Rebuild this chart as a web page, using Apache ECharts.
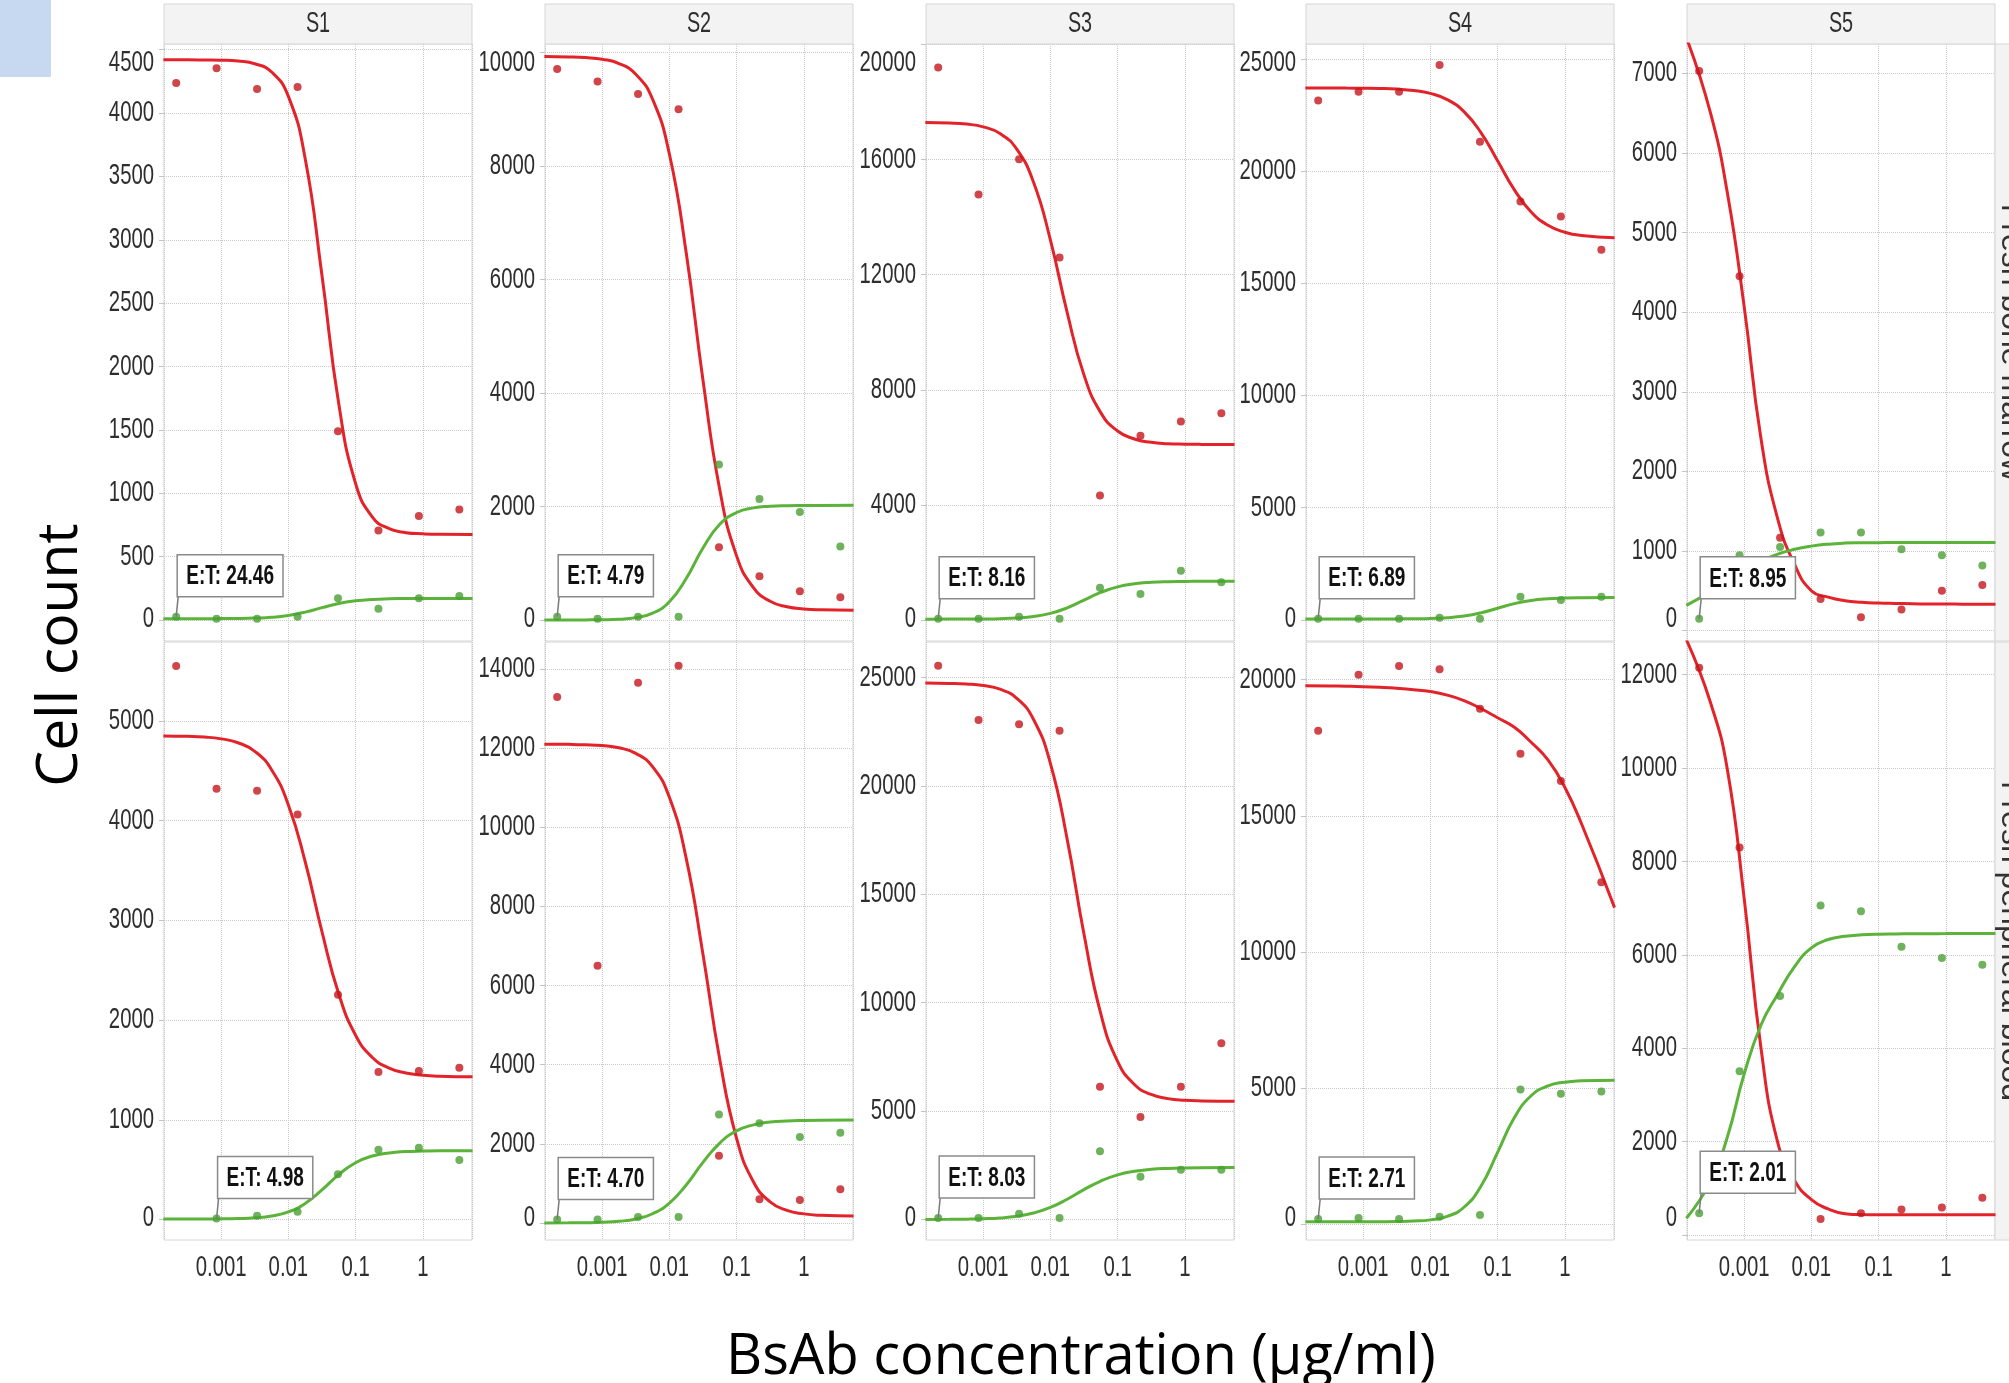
<!DOCTYPE html>
<html>
<head>
<meta charset="utf-8">
<title>Cell count vs BsAb concentration</title>
<script src="https://cdn.jsdelivr.net/npm/echarts@6/dist/echarts.min.js"></script>
<style>
html, body { margin: 0; padding: 0; background: #fff; }
#chart { width: 2009px; height: 1383px; }
</style>
</head>
<body>
<div id="chart"></div>
<script>
// BsAb concentration (µg/ml), 4-fold dilution series
const conc = [0.000214, 0.000854, 0.00342, 0.0137, 0.0547, 0.219, 0.875, 3.5]
const curveX = [0.000138, 0.000316, 0.000562, 0.001, 0.00178, 0.00316, 0.00562, 0.01, 0.0178,
	0.0316, 0.0562, 0.1, 0.178, 0.316, 0.562, 1, 1.78, 5.5]
const xTicks = [0.001, 0.01, 0.1, 1]

const samples = ['S1', 'S2', 'S3', 'S4', 'S5']
const tissues = ['Fresh bone marrow', 'Fresh peripheral blood']

// Fresh bone marrow (top row)
const bmET = ['24.46', '4.79', '8.16', '6.89', '8.95']
const bmRedDots = [
	[4238, 4354, 4189, 4205, 1490, 705, 821, 871],
	[9710, 9490, 9270, 9000, 1280, 770, 505, 400],
	[19200, 14790, 16010, 12600, 4330, 6400, 6900, 7190],
	[23140, 23530, 23530, 24720, 21300, 18640, 17970, 16490],
	[7030, 4450, 1165, 395, 167, 265, 500, 572],
]
const bmGreenDots = [
	[26, 10, 10, 26, 172, 89, 172, 189],
	[59, 22, 59, 59, 2741, 2133, 1904, 1296],
	[44, 44, 117, 44, 1124, 905, 1708, 1314],
	[56, 56, 56, 94, 56, 1034, 884, 1034],
	[147, 947, 1050, 1232, 1232, 1021, 947, 816],
]
const bmRedFit = [
	[4420, 4420, 4419, 4417, 4410, 4389, 4324, 4132, 3640, 2720, 1706, 1077, 812, 720, 689, 680, 676, 675],
	[9928, 9922, 9910, 9881, 9806, 9618, 9178, 8212, 6470, 4230, 2298, 1130, 570, 330, 233, 195, 180, 172],
	[17293, 17274, 17236, 17140, 16908, 16364, 15213, 13212, 10681, 8519, 7207, 6568, 6292, 6177, 6130, 6112, 6104, 6100],
	[23700, 23698, 23695, 23690, 23678, 23650, 23591, 23460, 23184, 22645, 21723, 20457, 19162, 18175, 17582, 17273, 17125, 17026],
	[7450, 6500, 5500, 4070, 2410, 1400, 830, 500, 420, 375, 355, 345, 340, 336, 333, 332, 331, 330],
]
const bmGreenFit = [
	[10, 10, 10, 11, 12, 15, 21, 36, 62, 97, 130, 151, 162, 167, 169, 170, 170, 170],
	[0, 1, 2, 5, 14, 42, 120, 323, 730, 1269, 1686, 1894, 1976, 2005, 2015, 2018, 2019, 2020],
	[30, 31, 33, 37, 47, 71, 122, 229, 422, 690, 958, 1151, 1258, 1309, 1333, 1342, 1347, 1350],
	[40, 40, 40, 41, 42, 44, 50, 64, 97, 172, 314, 520, 726, 868, 943, 976, 990, 998],
	[315, 490, 640, 770, 870, 960, 1020, 1060, 1085, 1098, 1102, 1104, 1105, 1105, 1105, 1105, 1105, 1105],
]
const bmTicks = [
	[0, 500, 1000, 1500, 2000, 2500, 3000, 3500, 4000, 4500],
	[0, 2000, 4000, 6000, 8000, 10000],
	[0, 4000, 8000, 12000, 16000, 20000],
	[0, 5000, 10000, 15000, 20000, 25000],
	[0, 1000, 2000, 3000, 4000, 5000, 6000, 7000],
]
const bmRange = [[-166, 4545], [-370, 10150], [-730, 20020], [-940, 25660], [-132, 7370]]

// Fresh peripheral blood (bottom row)
const pbET = ['4.98', '4.70', '8.03', '2.71', '2.01']
const pbRedDots = [
	[5550, 4320, 4300, 4060, 2253, 1480, 1490, 1523],
	[13290, 6500, 13650, 14080, 1700, 600, 580, 850],
	[25550, 23040, 22850, 22550, 6120, 4730, 6120, 8130],
	[18120, 20180, 20500, 20380, 18930, 17280, 16280, 12560],
	[12150, 8300, 1700, 345, 470, 550, 590, 800],
]
const pbGreenDots = [
	[null, 10, 39, 78, 455, 699, 719, 596],
	[90, 90, 150, 150, 2740, 2520, 2170, 2280],
	[67, 67, 270, 67, 3147, 1978, 2293, 2293],
	[200, 240, 200, 280, 350, 4950, 4800, 4880],
	[470, 3510, 5120, 7060, 6935, 6175, 5935, 5790],
]
const pbRedFit = [
	[4848, 4844, 4837, 4819, 4780, 4694, 4510, 4157, 3587, 2886, 2262, 1848, 1625, 1518, 1469, 1447, 1437, 1431],
	[12099, 12094, 12084, 12062, 12006, 11867, 11531, 10755, 9213, 6792, 4130, 2139, 1041, 533, 317, 230, 194, 174],
	[24744, 24731, 24704, 24634, 24462, 24044, 23067, 21044, 17536, 13170, 9497, 7295, 6230, 5768, 5577, 5500, 5471, 5454],
	[19770, 19765, 19755, 19740, 19715, 19680, 19630, 19560, 19430, 19230, 18940, 18600, 18250, 17700, 17050, 16050, 14700, 11630],
	[12750, 11400, 9970, 7210, 4000, 1980, 1170, 760, 560, 460, 440, 438, 437, 436, 436, 435, 435, 435],
]
const pbGreenFit = [
	[5, 5, 6, 7, 10, 18, 36, 77, 162, 297, 451, 570, 637, 668, 681, 686, 689, 690],
	[1, 3, 7, 17, 42, 101, 233, 503, 960, 1530, 2020, 2327, 2480, 2550, 2579, 2591, 2597, 2600],
	[3, 8, 17, 36, 74, 152, 300, 557, 935, 1378, 1777, 2058, 2225, 2314, 2358, 2380, 2391, 2398],
	[100, 100, 101, 101, 103, 108, 124, 169, 297, 632, 1392, 2645, 3925, 4726, 5087, 5224, 5273, 5297],
	[360, 1150, 2100, 3450, 4500, 5160, 5750, 6150, 6330, 6400, 6430, 6445, 6450, 6452, 6455, 6456, 6458, 6460],
]
const pbTicks = [
	[0, 1000, 2000, 3000, 4000, 5000],
	[0, 2000, 4000, 6000, 8000, 10000, 12000, 14000],
	[0, 5000, 10000, 15000, 20000, 25000],
	[0, 5000, 10000, 15000, 20000],
	[0, 2000, 4000, 6000, 8000, 10000, 12000],
]
const pbRange = [[-205, 5790], [-430, 14680], [-944, 26640], [-570, 21380], [-104, 12700]]

const rowsData = [
	{ et: bmET, redDots: bmRedDots, greenDots: bmGreenDots, redFit: bmRedFit, greenFit: bmGreenFit, ticks: bmTicks, range: bmRange },
	{ et: pbET, redDots: pbRedDots, greenDots: pbGreenDots, redFit: pbRedFit, greenFit: pbGreenFit, ticks: pbTicks, range: pbRange },
]

// 布局
const colLeft = [164, 545, 926, 1306, 1687]
const plotW = 308
const rowBox = [{ top: 44, h: 597 }, { top: 642, h: 598 }]
const X_MIN = 0.000141
const X_MAX = 5.4

const SANS = "'Liberation Sans', Arial, sans-serif"
// the source uses a tall, condensed face: normal face squeezed horizontally
const TICK_FONT = '29px ' + SANS
const SQUEEZE = 0.7
const TICK_COLOR = '#2e2e2e'
const RED_LINE = '#e2232a'
const RED_DOT = '#c3161d'
const GREEN_LINE = '#5bb33a'
const GREEN_DOT = '#4a9f35'
const GRID_LINE = { color: '#c9c9c9', type: 'dotted', width: 1 }

const chart = echarts.init(document.getElementById('chart'))

const grid = []
const xAxis = []
const yAxis = []
const series = []

rowsData.forEach((rd, r) => {
	samples.forEach((s, c) => {
		const gi = r * 5 + c
		const [lo, hi] = rd.range[c]
		const ticks = rd.ticks[c]

		grid.push({
			left: colLeft[c], top: rowBox[r].top, width: plotW, height: rowBox[r].h,
			show: true, borderColor: '#d6d6d6', borderWidth: 1, backgroundColor: '#fff',
			containLabel: false, outerBoundsMode: 'none',
		})

		xAxis.push({
			type: 'log', logBase: 10, gridIndex: gi, min: X_MIN, max: X_MAX,
			axisLine: { show: false }, axisTick: { show: false }, axisLabel: { show: false },
			splitLine: { show: true, lineStyle: GRID_LINE },
		})

		yAxis.push({
			type: 'value', gridIndex: gi, min: lo, max: hi,
			axisLine: { show: false },
			axisTick: { show: true, length: 5, lineStyle: { color: '#c4c4c4' }, customValues: ticks },
			axisLabel: { show: false, customValues: ticks },
			splitLine: { show: true, lineStyle: GRID_LINE },
		})

		const fit = (vals) => curveX.map((x, i) => [x, vals[i]])
		const dots = (vals) => conc.map((x, i) => [x, vals[i]]).filter((p) => p[1] != null)

		series.push({
			type: 'line', xAxisIndex: gi, yAxisIndex: gi, data: fit(rd.redFit[c]),
			smooth: 0.5, symbol: 'none', silent: true, z: 2,
			lineStyle: { color: RED_LINE, width: 3 },
		})
		series.push({
			type: 'line', xAxisIndex: gi, yAxisIndex: gi, data: fit(rd.greenFit[c]),
			smooth: 0.5, symbol: 'none', silent: true, z: 3,
			lineStyle: { color: GREEN_LINE, width: 3 },
		})
		series.push({
			type: 'scatter', xAxisIndex: gi, yAxisIndex: gi, data: dots(rd.redDots[c]),
			symbolSize: 8, itemStyle: { color: RED_DOT }, z: 4, silent: true,
		})
		series.push({
			type: 'scatter', xAxisIndex: gi, yAxisIndex: gi, data: dots(rd.greenDots[c]),
			symbolSize: 8, itemStyle: { color: GREEN_DOT }, z: 5, silent: true,
		})
	})
})

chart.setOption({
	animation: false,
	backgroundColor: '#fff',
	grid, xAxis, yAxis, series,
})

// 装饰: tick labels, strips, titles, E:T boxes
const graphic = []
const txtStyle = (text, font, fill, align) => ({
	text, font, fill, align, verticalAlign: 'middle', textAlign: align, textVerticalAlign: 'middle',
})

graphic.push({ type: 'rect', shape: { x: 0, y: 0, width: 51, height: 77 }, style: { fill: '#c6d9f0' }, silent: true })

// tick labels (squeezed text, pushed inside the plot near the edges)
rowsData.forEach((rd, r) => {
	const top = rowBox[r].top
	const bottom = top + rowBox[r].h
	samples.forEach((s, c) => {
		const gi = r * 5 + c
		rd.ticks[c].forEach((v) => {
			let py = chart.convertToPixel({ yAxisIndex: gi }, v)
			if (py - top < 19) py = top + 19
			if (bottom - py < 22) py = bottom - 22
			graphic.push({
				type: 'text', x: colLeft[c] - 10, y: py, scaleX: SQUEEZE, silent: true,
				style: txtStyle(String(v), TICK_FONT, TICK_COLOR, 'right'),
			})
		})
		if (r === 1) {
			xTicks.forEach((v) => {
				const px = chart.convertToPixel({ xAxisIndex: gi }, v)
				graphic.push({
					type: 'text', x: px, y: bottom + 28, scaleX: SQUEEZE, silent: true,
					style: txtStyle(String(v), TICK_FONT, TICK_COLOR, 'center'),
				})
			})
		}
	})
})

samples.forEach((s, c) => {
	graphic.push({
		type: 'rect', shape: { x: colLeft[c], y: 4, width: plotW, height: 40 },
		style: { fill: '#f3f3f3', stroke: '#d6d6d6', lineWidth: 1 }, silent: true,
	})
	graphic.push({
		type: 'text', x: colLeft[c] + plotW / 2, y: 24, scaleX: 0.66, silent: true,
		style: txtStyle(s, '30px ' + SANS, '#2e2e2e', 'center'),
	})
})

tissues.forEach((t, r) => {
	graphic.push({
		type: 'rect', shape: { x: 1995, y: rowBox[r].top, width: 40, height: rowBox[r].h },
		style: { fill: '#f3f3f3', stroke: '#d6d6d6', lineWidth: 1 }, silent: true,
	})
	graphic.push({
		type: 'text', x: 2011, y: rowBox[r].top + rowBox[r].h / 2, rotation: -Math.PI / 2, silent: true,
		style: txtStyle(t, '32px ' + SANS, '#333', 'center'),
	})
})

graphic.push({
	type: 'text', x: 61, y: 655, rotation: Math.PI / 2, silent: true,
	style: txtStyle('Cell count', "57px 'Open Sans', sans-serif", '#000', 'center'),
})
graphic.push({
	type: 'text', x: 1081, y: 1358, silent: true,
	style: txtStyle('BsAb concentration (µg/ml)', "56px 'Open Sans', sans-serif", '#000', 'center'),
})

const ET_FONT = 'bold 28px ' + SANS
const ET_SCALE = 0.68
const measure = document.createElement('canvas').getContext('2d')
measure.font = ET_FONT

rowsData.forEach((rd, r) => {
	samples.forEach((s, c) => {
		const gi = r * 5 + c
		const g = rd.greenDots[c]
		const k = g.findIndex((v) => v != null)
		const [px, py] = chart.convertToPixel({ gridIndex: gi }, [conc[k], g[k]])
		const txt = 'E:T: ' + rd.et[c]
		const bw = measure.measureText(txt).width * ET_SCALE + 18
		const bh = 42
		const bx = px + 1
		const by = py - 20 - bh
		graphic.push({
			type: 'line', shape: { x1: bx + 1, y1: by + bh, x2: px, y2: py }, silent: true, z: 90,
			style: { stroke: '#7a7a7a', lineWidth: 1.5 },
		})
		graphic.push({
			type: 'rect', shape: { x: bx, y: by, width: bw, height: bh }, silent: true, z: 91,
			style: { fill: '#fff', stroke: '#8a8a8a', lineWidth: 1.5 },
		})
		graphic.push({
			type: 'text', x: bx + bw / 2, y: by + bh / 2 + 1, scaleX: ET_SCALE, silent: true, z: 92,
			style: txtStyle(txt, ET_FONT, '#111', 'center'),
		})
	})
})

chart.setOption({ graphic })
</script>
</body>
</html>
